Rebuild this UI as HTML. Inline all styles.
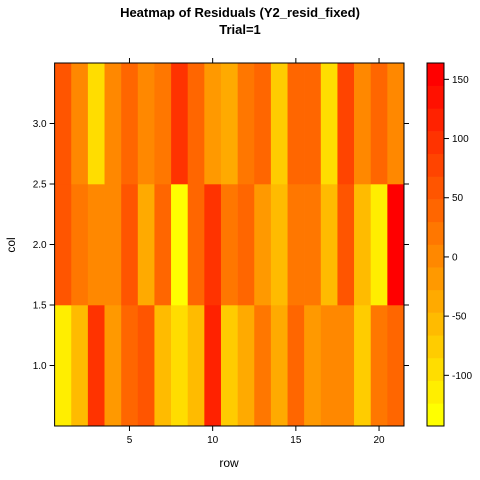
<!DOCTYPE html>
<html><head><meta charset="utf-8"><style>
body{margin:0;background:#fff;}
svg{font-family:"Liberation Sans",Arial,sans-serif;display:block}
</style></head><body>
<svg id="chart" width="480" height="480" viewBox="0 0 480 480">
<text x="240" y="17" text-anchor="middle" font-size="13" font-weight="bold">Heatmap of Residuals (Y2_resid_fixed)</text>
<text x="240" y="34" text-anchor="middle" font-size="13" font-weight="bold">Trial=1</text>
<g id="cells"></g>
<g id="axes"></g>
<g id="key"></g>
<text x="229" y="467" text-anchor="middle" font-size="12">row</text>
<text x="15" y="245" text-anchor="middle" font-size="12" transform="rotate(-90 15 245)">col</text>
</svg>
<script>
const rows = [1,2,3,4,5,6,7,8,9,10,11,12,13,14,15,16,17,18,19,20,21];
const cols = [1,2,3];
const col1 = [-114,-56,97,-18,39,58,-56,-88,-56,116,-76,-37,20,-37,39,-18,1,1,-76,20,39];
const col2 = [58,20,1,1,58,-37,39,-133,39,97,20,39,-18,-56,20,20,-56,58,-56,-114,154];
const col3 = [64,-4,-88,-8,39,1,20,97,39,-18,-37,20,39,-76,39,39,-88,78,-4,39,1];
const xTicks = [5,10,15,20];
const yTicks = [1.0,1.5,2.0,2.5,3.0];
const keyTicks = [-100,-50,0,50,100,150];
const zMin = -142.8, zMax = 163.8, nBands = 16;

const NS = "http://www.w3.org/2000/svg";
const L=54.6, R=404, T=63, B=426;
const xs = v => L + (v-0.5)*(R-L)/21;
const ys = v => B - (v-0.5)*(B-T)/3;
const kT=63, kB=426, kL=427, kR=444;
const ks = v => kB - (v-zMin)/(zMax-zMin)*(kB-kT);
function bandColor(k){ const g=Math.round(255*(1-k/(nBands-1))); return `rgb(255,${g},0)`; }
function colorFor(v){ let k=Math.floor((v-zMin)/(zMax-zMin)*nBands); k=Math.max(0,Math.min(nBands-1,k)); return bandColor(k); }
function mk(tag,attrs,parent){ const e=document.createElementNS(NS,tag); for(const a in attrs) e.setAttribute(a,attrs[a]); parent.appendChild(e); return e; }

const cellsG=document.getElementById('cells');
const data=[col1,col2,col3];
cols.forEach((c,ci)=>{ rows.forEach((r,ri)=>{
  const e=mk('rect',{x:xs(r-0.5),y:ys(c+0.5),width:xs(r+0.5)-xs(r-0.5)+0.3,height:ys(c-0.5)-ys(c+0.5)+0.3,fill:colorFor(data[ci][ri])},cellsG);
  
  
});});

const ax=document.getElementById('axes');
const fr=mk('rect',{x:L,y:T,width:R-L,height:B-T,fill:'none',stroke:'#000','stroke-width':1},ax);


xTicks.forEach(t=>{
  const x=xs(t);
  mk('line',{x1:x,y1:B,x2:x,y2:B+5,stroke:'#000'},ax);
  mk('line',{x1:x,y1:T,x2:x,y2:T-5,stroke:'#000'},ax);
  const tx=mk('text',{x:x,y:B+17,'text-anchor':'middle','font-size':10},ax);
  tx.textContent=t;
  
  
});
yTicks.forEach(t=>{
  const y=ys(t);
  mk('line',{x1:L,y1:y,x2:L-5,y2:y,stroke:'#000'},ax);
  mk('line',{x1:R,y1:y,x2:R+5,y2:y,stroke:'#000'},ax);
  const tx=mk('text',{x:L-8,y:y+3.5,'text-anchor':'end','font-size':10},ax);
  tx.textContent=t.toFixed(1);
  
  
});

const kg=document.getElementById('key');
for(let k=0;k<nBands;k++){
  const v0=zMin+k*(zMax-zMin)/nBands, v1=zMin+(k+1)*(zMax-zMin)/nBands;
  const e=mk('rect',{x:kL,y:ks(v1),width:kR-kL,height:ks(v0)-ks(v1)+0.3,fill:bandColor(k)},kg);
  
  
}
mk('rect',{x:kL,y:kT,width:kR-kL,height:kB-kT,fill:'none',stroke:'#000'},kg);
keyTicks.forEach(t=>{
  const y=ks(t);
  mk('line',{x1:kR,y1:y,x2:kR+5,y2:y,stroke:'#000'},kg);
  const tx=mk('text',{x:kR+8,y:y+3.5,'font-size':10},kg);
  tx.textContent=t;
  
  
});
</script>
</body></html>
